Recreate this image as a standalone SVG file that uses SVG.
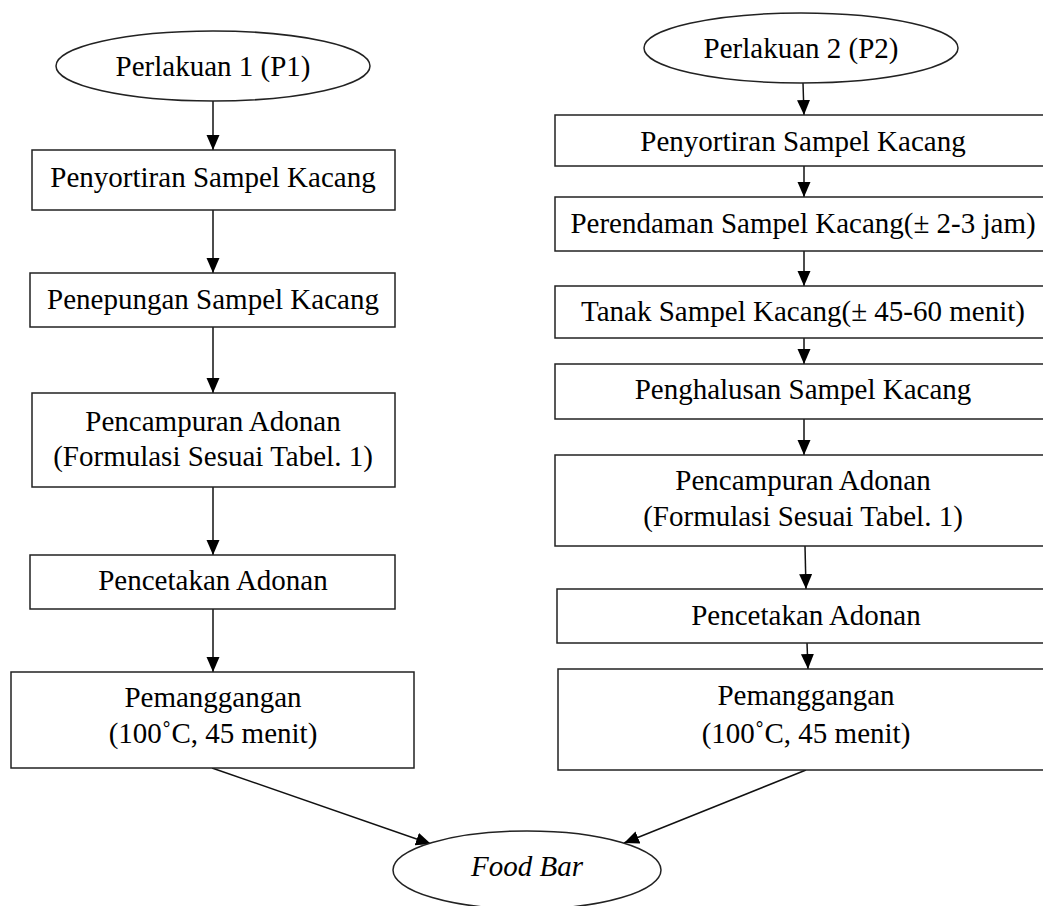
<svg xmlns="http://www.w3.org/2000/svg" width="1043" height="906" viewBox="0 0 1043 906">
<style>
.b{fill:#fff;stroke:#222;stroke-width:1.5}
.t{font-family:"Liberation Serif","Times New Roman",serif;font-size:29px;fill:#000;text-anchor:middle}
.c{stroke:#111;stroke-width:1.5;fill:none;marker-end:url(#ah)}
</style>
<defs>
<marker id="ah" markerUnits="userSpaceOnUse" markerWidth="15" markerHeight="14" viewBox="0 0 15 14" refX="15" refY="6.5" orient="auto">
<path d="M0,0 L15,6.5 L0,13 Z" fill="#000"/>
</marker>
</defs>
<rect width="1043" height="906" fill="#fff"/>
<g id="connectors">
<line class="c" x1="213" y1="101" x2="213" y2="150"/>
<line class="c" x1="213" y1="210" x2="213" y2="273"/>
<line class="c" x1="213" y1="327" x2="213" y2="393"/>
<line class="c" x1="213" y1="487" x2="213" y2="555"/>
<line class="c" x1="213" y1="609" x2="213" y2="672"/>
<line class="c" x1="212" y1="768" x2="431" y2="844"/>
<line class="c" x1="803" y1="83" x2="804" y2="115"/>
<line class="c" x1="804" y1="166" x2="804" y2="197"/>
<line class="c" x1="804" y1="251" x2="804" y2="286"/>
<line class="c" x1="804" y1="338" x2="804" y2="364"/>
<line class="c" x1="804" y1="419" x2="804" y2="455"/>
<line class="c" x1="805" y1="546" x2="806" y2="589"/>
<line class="c" x1="807" y1="643" x2="808" y2="669"/>
<line class="c" x1="806" y1="770" x2="624" y2="843"/>
</g>
<g id="p1">
<ellipse class="b" cx="213" cy="66" rx="157" ry="35"/>
<text class="t" x="213" y="76">Perlakuan 1 (P1)</text>
</g>
<g id="l1">
<rect class="b" x="32" y="150" width="363" height="60"/>
<text class="t" x="213" y="187">Penyortiran Sampel Kacang</text>
</g>
<g id="l2">
<rect class="b" x="30" y="273" width="365" height="54"/>
<text class="t" x="213" y="309">Penepungan Sampel Kacang</text>
</g>
<g id="l3">
<rect class="b" x="32" y="393" width="363" height="94"/>
<text class="t" x="213" y="431">Pencampuran Adonan</text>
<text class="t" x="213" y="466">(Formulasi Sesuai Tabel. 1)</text>
</g>
<g id="l4">
<rect class="b" x="30" y="555" width="365" height="54"/>
<text class="t" x="213" y="590">Pencetakan Adonan</text>
</g>
<g id="l5">
<rect class="b" x="11" y="672" width="403" height="96"/>
<text class="t" x="213" y="707">Pemanggangan</text>
<text class="t" x="213" y="743">(100˚C, 45 menit)</text>
</g>
<g id="p2">
<ellipse class="b" cx="801" cy="48" rx="157" ry="35"/>
<text class="t" x="801" y="58">Perlakuan 2 (P2)</text>
</g>
<g id="r1">
<rect class="b" x="555" y="115" width="500" height="51"/>
<text class="t" x="803" y="151">Penyortiran Sampel Kacang</text>
</g>
<g id="r2">
<rect class="b" x="555" y="197" width="500" height="54"/>
<text class="t" x="803" y="233">Perendaman Sampel Kacang(± 2-3 jam)</text>
</g>
<g id="r3">
<rect class="b" x="555" y="286" width="500" height="52"/>
<text class="t" x="803" y="321">Tanak Sampel Kacang(± 45-60 menit)</text>
</g>
<g id="r4">
<rect class="b" x="555" y="364" width="500" height="55"/>
<text class="t" x="803" y="399">Penghalusan Sampel Kacang</text>
</g>
<g id="r5">
<rect class="b" x="555" y="455" width="500" height="91"/>
<text class="t" x="803" y="490">Pencampuran Adonan</text>
<text class="t" x="803" y="526">(Formulasi Sesuai Tabel. 1)</text>
</g>
<g id="r6">
<rect class="b" x="557" y="589" width="500" height="54"/>
<text class="t" x="806" y="625">Pencetakan Adonan</text>
</g>
<g id="r7">
<rect class="b" x="558" y="669" width="500" height="101"/>
<text class="t" x="806" y="705">Pemanggangan</text>
<text class="t" x="806" y="743">(100˚C, 45 menit)</text>
</g>
<g id="fb">
<ellipse class="b" cx="527" cy="870" rx="134" ry="39"/>
<text class="t" x="527" y="876" font-style="italic">Food Bar</text>
</g>
</svg>
